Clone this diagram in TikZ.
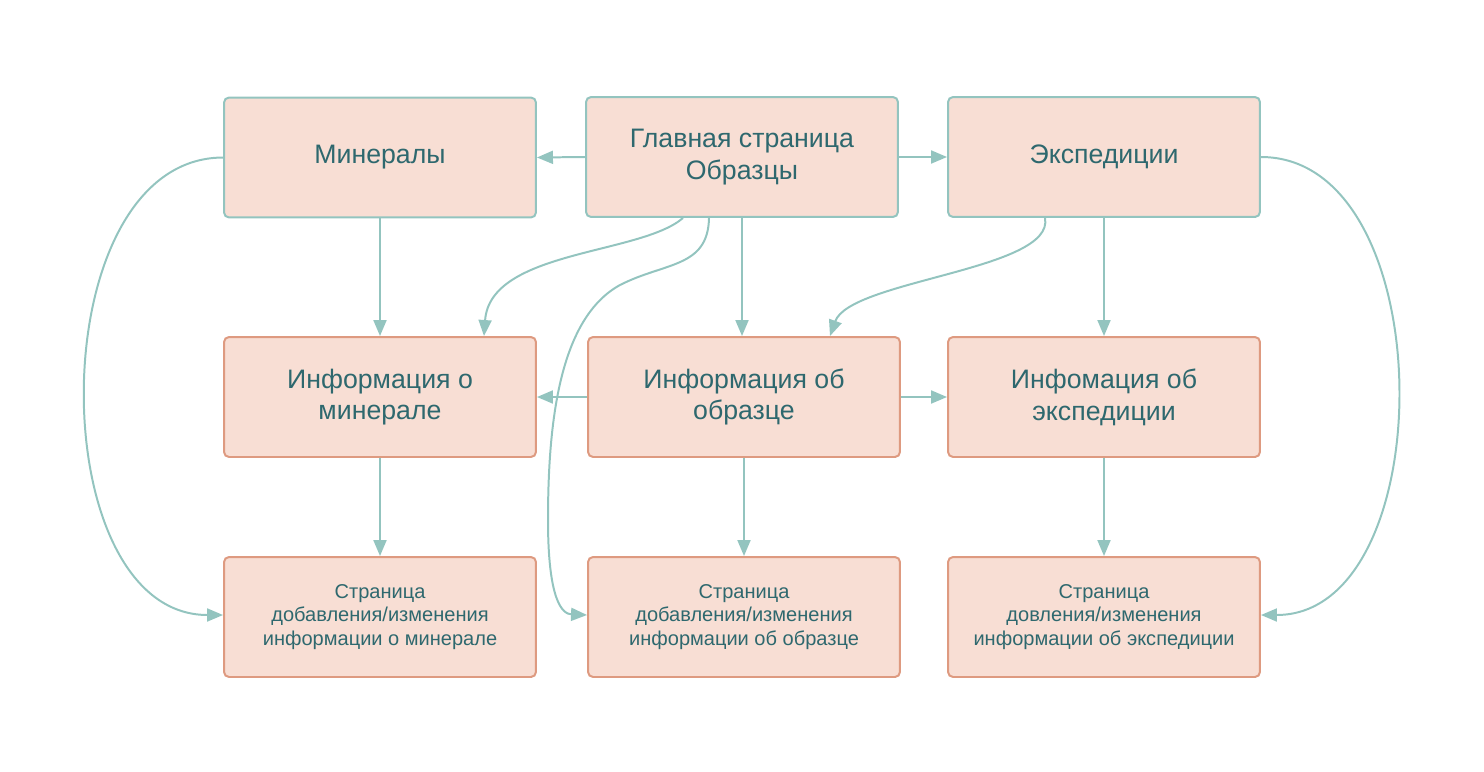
\documentclass[tikz,border=0pt]{standalone}
\usepackage{fontspec}
\setmainfont{Liberation Sans}
\usetikzlibrary{arrows.meta,calc}
\definecolor{boxfill}{HTML}{F8DED4}
\definecolor{tealline}{HTML}{93C4BF}
\definecolor{orangeline}{HTML}{DE9A80}
\definecolor{txt}{HTML}{2E686E}
\begin{document}
\begin{tikzpicture}[x=0.02cm,y=-0.02cm,
  box/.style={rectangle, rounded corners=0.1cm, fill=boxfill, line width=1.13pt,
    minimum width=6.24cm, minimum height=2.4cm, align=center, text=txt, inner sep=0pt},
  topbox/.style={box, draw=tealline, font=\fontsize{15.2}{18.1}\selectfont},
  midbox/.style={box, draw=orangeline, font=\fontsize{15.2}{18.1}\selectfont},
  lowbox/.style={box, draw=orangeline, font=\fontsize{11.4}{13.6}\selectfont},
  conn/.style={draw=tealline, line width=1.13pt, -{Triangle[length=0.32cm,width=0.26cm]}, fill=none}
]
\useasboundingbox (0,0) rectangle (1484,771);
% top row
\node[topbox] (min) at (380,157.5) {Минералы};
\node[topbox] (main) at (742,157) {Главная страница\\Образцы};
\node[topbox] (exp) at (1104,157) {Экспедиции};
% middle row
\node[midbox] (imin) at (380,397) {Информация о\\минерале};
\node[midbox] (iobr) at (744,397) {Информация об\\образце};
\node[midbox] (iexp) at (1104,397) {Инфомация об\\экспедиции};
% bottom row
\node[lowbox] (smin) at (380,617) {Страница\\добавления/изменения\\информации о минерале};
\node[lowbox] (sobr) at (744,617) {Страница\\добавления/изменения\\информации об образце};
\node[lowbox] (sexp) at (1104,617) {Страница\\довления/изменения\\информации об экспедиции};
% straight connectors
\draw[conn] (main.west) -- (min.east);
\draw[conn] (main.east) -- (exp.west);
\draw[conn] (min.south) -- (imin.north);
\draw[conn] (main.south) -- (main.south |- iobr.north);
\draw[conn] (exp.south) -- (iexp.north);
\draw[conn] (iobr.west) -- (imin.east);
\draw[conn] (iobr.east) -- (iexp.west);
\draw[conn] (imin.south) -- (smin.north);
\draw[conn] (iobr.south) -- (sobr.north);
\draw[conn] (iexp.south) -- (sexp.north);
% curved connectors
\draw[conn] ([xshift=-1.18cm]main.south) .. controls (640,255) and (490,250) .. ([xshift=2.08cm]imin.north);
\draw[conn] ([xshift=-1.18cm]exp.south) .. controls (1055,270) and (850,280) .. ([xshift=1.72cm]iobr.north);
\draw[conn] ([xshift=-0.66cm]main.south) .. controls (708,268) and (665,262) .. (620,285)
   .. controls (560,318) and (548,420) .. (548,520)
   .. controls (548,600) and (562,614) .. ([yshift=0.04cm]sobr.west);
\draw[conn] (min.west) .. controls (40,158) and (40,615) .. ([yshift=0.04cm]smin.west);
\draw[conn] (exp.east) .. controls (1443,157) and (1443,615) .. ([yshift=0.04cm]sexp.east);
\end{tikzpicture}
\end{document}
